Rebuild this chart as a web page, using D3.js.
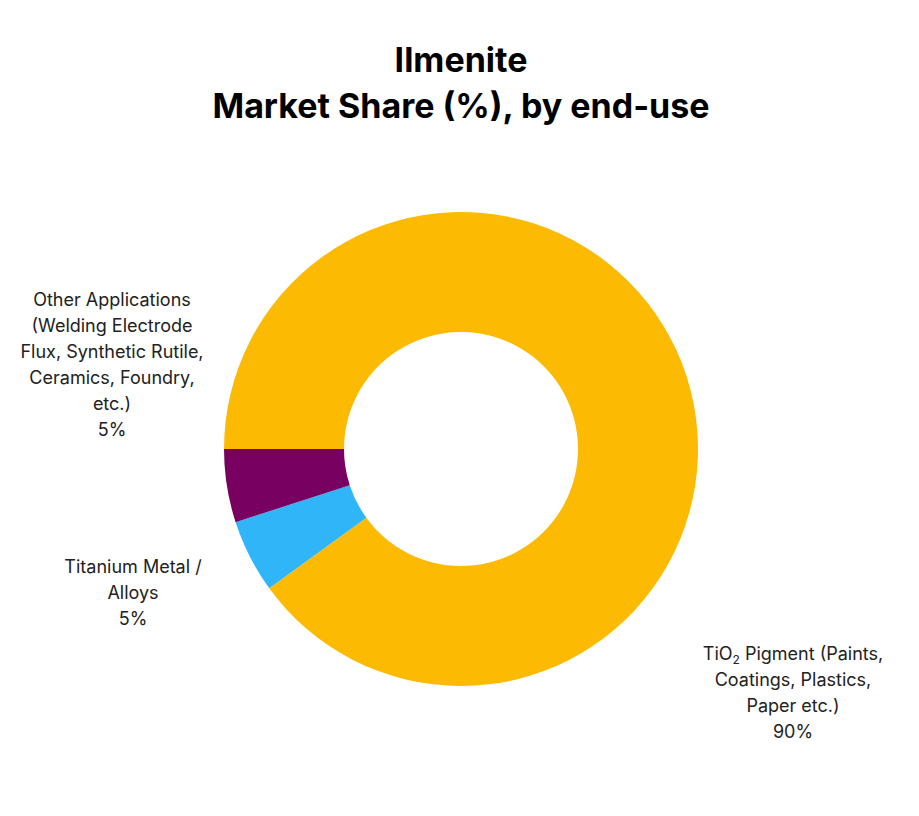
<!DOCTYPE html>
<html><head><meta charset="utf-8">
<script src="https://cdn.jsdelivr.net/npm/d3@7"></script>
<style>body{margin:0;background:#fff;font-family:Inter,"Noto Sans",sans-serif}</style>
</head><body>
<svg id="c" width="919" height="816"></svg>
<script>
const categories = ["TiO2 Pigment (Paints, Coatings, Plastics, Paper etc.)", "Titanium Metal / Alloys", "Other Applications (Welding Electrode Flux, Synthetic Rutile, Ceramics, Foundry, etc.)"];
const values = [90, 5, 5];
const colors = ["#FDBA03", "#30B5F9", "#780060"];
const labelLines = [
  [["TiO","2"," Pigment (Paints,"],["Coatings, Plastics,"],["Paper etc.)"],["90%"]],
  [["Titanium Metal /"],["Alloys"],["5%"]],
  [["Other Applications"],["(Welding Electrode"],["Flux, Synthetic Rutile,"],["Ceramics, Foundry,"],["etc.)"],["5%"]]
];
const labelPos = [[793,660],[133,573],[112,306]];

const svg = d3.select("#c");
const t = svg.append("text").attr("text-anchor","middle").attr("font-weight",700).attr("font-size",34).attr("fill","#000");
t.append("tspan").attr("x",461).attr("y",72).text("Ilmenite");
t.append("tspan").attr("x",461).attr("y",118).text("Market Share (%), by end-use");

const pie = d3.pie().sort(null).startAngle(-Math.PI/2).endAngle(1.5*Math.PI);
const arc = d3.arc().innerRadius(117).outerRadius(237);
const g = svg.append("g").attr("transform","translate(461,449)");
g.selectAll("path").data(pie(values)).join("path").attr("d",arc).attr("fill",(d,i)=>colors[i]);

labelLines.forEach((lines,i)=>{
  const tx = svg.append("text").attr("text-anchor","middle").attr("font-size",18).attr("fill","#222");
  lines.forEach((parts,j)=>{
    const ts = tx.append("tspan").attr("x",labelPos[i][0]).attr("y",labelPos[i][1]+j*26);
    if(parts.length===1) ts.text(parts[0]);
    else {
      ts.text(parts[0]);
      tx.append("tspan").attr("font-size",12).attr("dy",4).text(parts[1]);
      tx.append("tspan").attr("dy",-4).text(parts[2]);
    }
  });
});
</script>
</body></html>
